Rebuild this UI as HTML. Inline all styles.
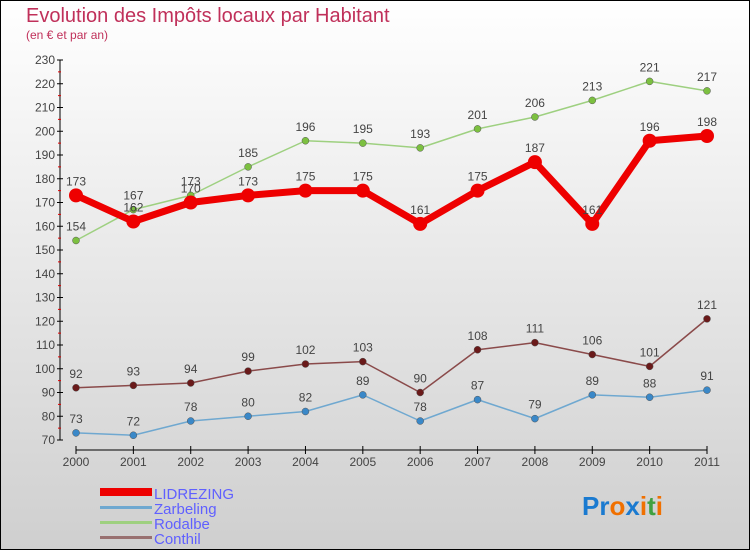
<!DOCTYPE html>
<html><head><meta charset="utf-8"><style>
body{margin:0;width:750px;height:550px;overflow:hidden;font-family:"Liberation Sans",sans-serif}
</style></head><body>
<svg id="c" width="750" height="550" xmlns="http://www.w3.org/2000/svg">
<defs><linearGradient id="bg" x1="0" y1="0" x2="0" y2="1"><stop offset="0" stop-color="#ffffff"/><stop offset="1" stop-color="#cfcfcf"/></linearGradient></defs>
<rect x="0.5" y="0.5" width="749" height="549" fill="url(#bg)" stroke="#000"/>
<text x="26" y="22" font-size="20" fill="#c0305a">Evolution des Impôts locaux par Habitant</text>
<text x="26" y="39" font-size="12" fill="#c0305a">(en € et par an)</text>
<g id="axes"></g><g id="series"></g>
<g>
<rect x="100" y="488" width="52" height="8" fill="#e00"/>
<text x="154" y="499" font-size="15" fill="#6060ff">LIDREZING</text>
<rect x="100" y="506" width="52" height="3" fill="#6fa8d0"/>
<text x="154" y="514" font-size="15" fill="#6060ff">Zarbeling</text>
<rect x="100" y="521" width="52" height="3" fill="#9ed080"/>
<text x="154" y="529" font-size="15" fill="#6060ff">Rodalbe</text>
<rect x="100" y="536" width="52" height="3" fill="#987070"/>
<text x="154" y="544" font-size="15" fill="#6060ff">Conthil</text>
</g>
<text x="582" y="515" font-size="26" font-weight="bold"><tspan fill="#1a7ad0">Pr</tspan><tspan fill="#f07000">o</tspan><tspan fill="#1a7ad0">x</tspan><tspan fill="#f07000">i</tspan><tspan fill="#40a040">t</tspan><tspan fill="#f07000">i</tspan></text>
</svg>
<script>
const years=[2000,2001,2002,2003,2004,2005,2006,2007,2008,2009,2010,2011];
const yTicks=[70,80,90,100,110,120,130,140,150,160,170,180,190,200,210,220,230];
const lidrezing=[173,162,170,173,175,175,161,175,187,161,196,198];
const zarbeling=[73,72,78,80,82,89,78,87,79,89,88,91];
const rodalbe=[154,167,173,185,196,195,193,201,206,213,221,217];
const conthil=[92,93,94,99,102,103,90,108,111,106,101,121];
const NS="http://www.w3.org/2000/svg";
const X=i=>76+i*(707-76)/11;
const Y=v=>440-(v-70)*(380/160);
function mk(t,a,p){const e=document.createElementNS(NS,t);for(const k in a)e.setAttribute(k,a[k]);p.appendChild(e);return e;}
const ax=document.getElementById('axes');
mk('line',{x1:60,y1:60,x2:60,y2:440,stroke:'#000','stroke-width':1},ax);
mk('line',{x1:76,y1:450,x2:707,y2:450,stroke:'#000','stroke-width':1},ax);
yTicks.forEach(v=>{
 mk('line',{x1:57,x2:63,y1:Y(v),y2:Y(v),stroke:'#000'},ax);
 if(v<230)mk('line',{x1:58,x2:61,y1:Y(v+5),y2:Y(v+5),stroke:'#d00'},ax);
 const t=mk('text',{x:55,y:Y(v)+4,'font-size':12,fill:'#444','text-anchor':'end'},ax);
 t.textContent=v;
 
 
});
years.forEach((y,i)=>{
 mk('line',{x1:X(i),x2:X(i),y1:446,y2:454,stroke:'#000'},ax);
 const t=mk('text',{x:X(i),y:466,'font-size':12,fill:'#444','text-anchor':'middle'},ax);
 t.textContent=y;
 
 
});
const sg=document.getElementById('series');
function series(name,data,color,dot,w,r,lab){
 const g=mk('g',{},sg);
 
 
 mk('polyline',{points:data.map((v,i)=>X(i)+','+Y(v)).join(' '),fill:'none',stroke:color,'stroke-width':w,'stroke-linejoin':'round'},g);
 data.forEach((v,i)=>{
  const c=mk('circle',{cx:X(i),cy:Y(v),r:r,fill:dot,stroke:'#555','stroke-width':r>4?0:0.5},g);
  
  
  const t=mk('text',{x:X(i),y:Y(v)-10,'font-size':12,fill:'#444','text-anchor':'middle'},g);
  t.textContent=v;
  
  
 });
}
series('rodalbe',rodalbe,'#9ed080','#7cc040',1.5,3.5);
series('conthil',conthil,'#8a4a4a','#6a1a1a',1.5,3.5);
series('zarbeling',zarbeling,'#6fa8d0','#3a88c8',1.5,3.5);
series('lidrezing',lidrezing,'#ee0000','#ee0000',7,7);
</script>
</body></html>
